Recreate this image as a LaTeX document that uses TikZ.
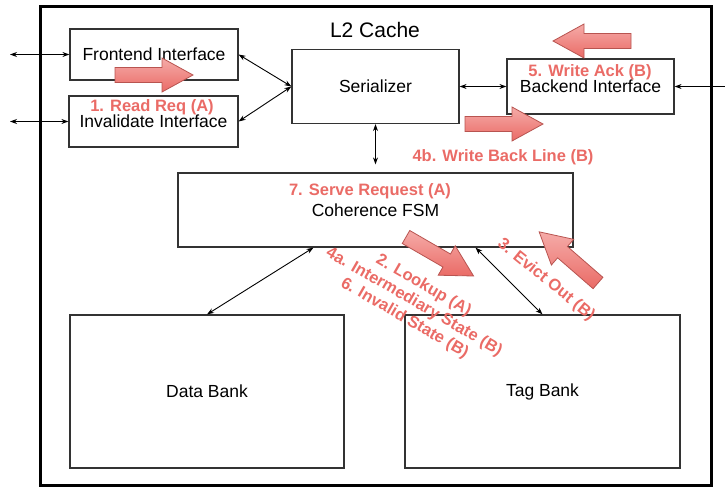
\documentclass[tikz,border=0pt]{standalone}
\usepackage{fontspec}
\setmainfont{Liberation Sans}
\usetikzlibrary{positioning,arrows.meta}
\definecolor{redtxt}{HTML}{EA6B66}
\definecolor{redlight}{HTML}{F5ABA8}
\definecolor{redline}{HTML}{B85450}

\begin{document}
\begin{tikzpicture}[x=1pt,y=-1pt,>={Stealth[length=7pt,width=5pt]},
  b/.style={draw=black!80,line width=1.2pt,inner sep=0pt,font=\fontsize{17.5}{21}\selectfont},
  lbl/.style={text=redtxt,align=center,font=\bfseries\fontsize{16.5}{19}\selectfont},
  fat/.pic={\shade[top color=redlight,bottom color=redtxt,draw=redline,line width=0.8pt]
    (0,-7.5) -- (47,-7.5) -- (47,-17) -- (78,0) -- (47,17) -- (47,7.5) -- (0,7.5) -- cycle;}]
  \useasboundingbox (0,0) rectangle (725,487);
  \draw[line width=3pt] (40,7) rectangle (711,485);
  \node[font=\fontsize{21}{25}\selectfont] (title) at (375,30) {L2 Cache};
  \node[b,minimum width=168pt,minimum height=51pt] (fe) at (154,54.5) {Frontend Interface};
  \node[b,minimum width=169pt,minimum height=51pt] (inv) at (153.5,121.5) {Invalidate Interface};
  \node[b,minimum width=167pt,minimum height=74pt] (ser) at (375.5,86.5) {Serializer};
  \node[b,minimum width=167pt,minimum height=55pt] (be) at (590.5,86.5) {Backend Interface};
  \node[b,minimum width=395pt,minimum height=74pt] (fsm) at (375.5,210) {Coherence FSM};
  \node[b,minimum width=274pt,minimum height=153pt] (db) at (207,391.5) {Data Bank};
  \node[b,minimum width=275pt,minimum height=153pt] (tb) at (542.5,391.5) {Tag Bank};
  \coordinate (feout) at (10,54.5);
  \coordinate (invout) at (10,121.5);
  \coordinate (beout) at (725,86.5);
  \begin{scope}[line width=0.9pt]
    \draw[<->] (feout) -- (fe.west);
    \draw[<->] (invout) -- (inv.west);
    \foreach \a in {fe,inv}{\draw[<->] (\a.east) -- (ser.west);}
    \draw[<->] (ser.east) -- (be.west);
    \draw[->] (beout) -- (be.east);
    \draw[<->,shorten >=8pt] (ser.south) -- (fsm.north);
    \draw[<->] ([xshift=-62pt]fsm.south) -- (db.north);
    \draw[<->] ([xshift=100pt]fsm.south) -- (tb.north);
  \end{scope}
  % red flow arrows
  \pic at (115,75) {fat};
  \pic[rotate=180] at (631,41) {fat};
  \pic at (465,124) {fat};
  \pic[rotate=-30] at (406,237) {fat};
  \pic[rotate=139] at (598,283) {fat};
  \node[lbl] (l1) at (152,107) {1. Read Req (A)};
  \node[lbl] (l5) at (590,72) {5. Write Ack (B)};
  \node[lbl] (l4b) at (503,157) {4b. Write Back Line (B)};
  \node[lbl] (l7) at (370,191) {7. Serve Request (A)};
  \node[lbl,rotate=-30] (l2) at (414,302) {2. Lookup (A)\\4a. Intermediary State (B)\\6. Invalid State (B)};
  \node[lbl,rotate=-39] (l3) at (546,280) {3. Evict Out (B)};
\end{tikzpicture}
\end{document}
